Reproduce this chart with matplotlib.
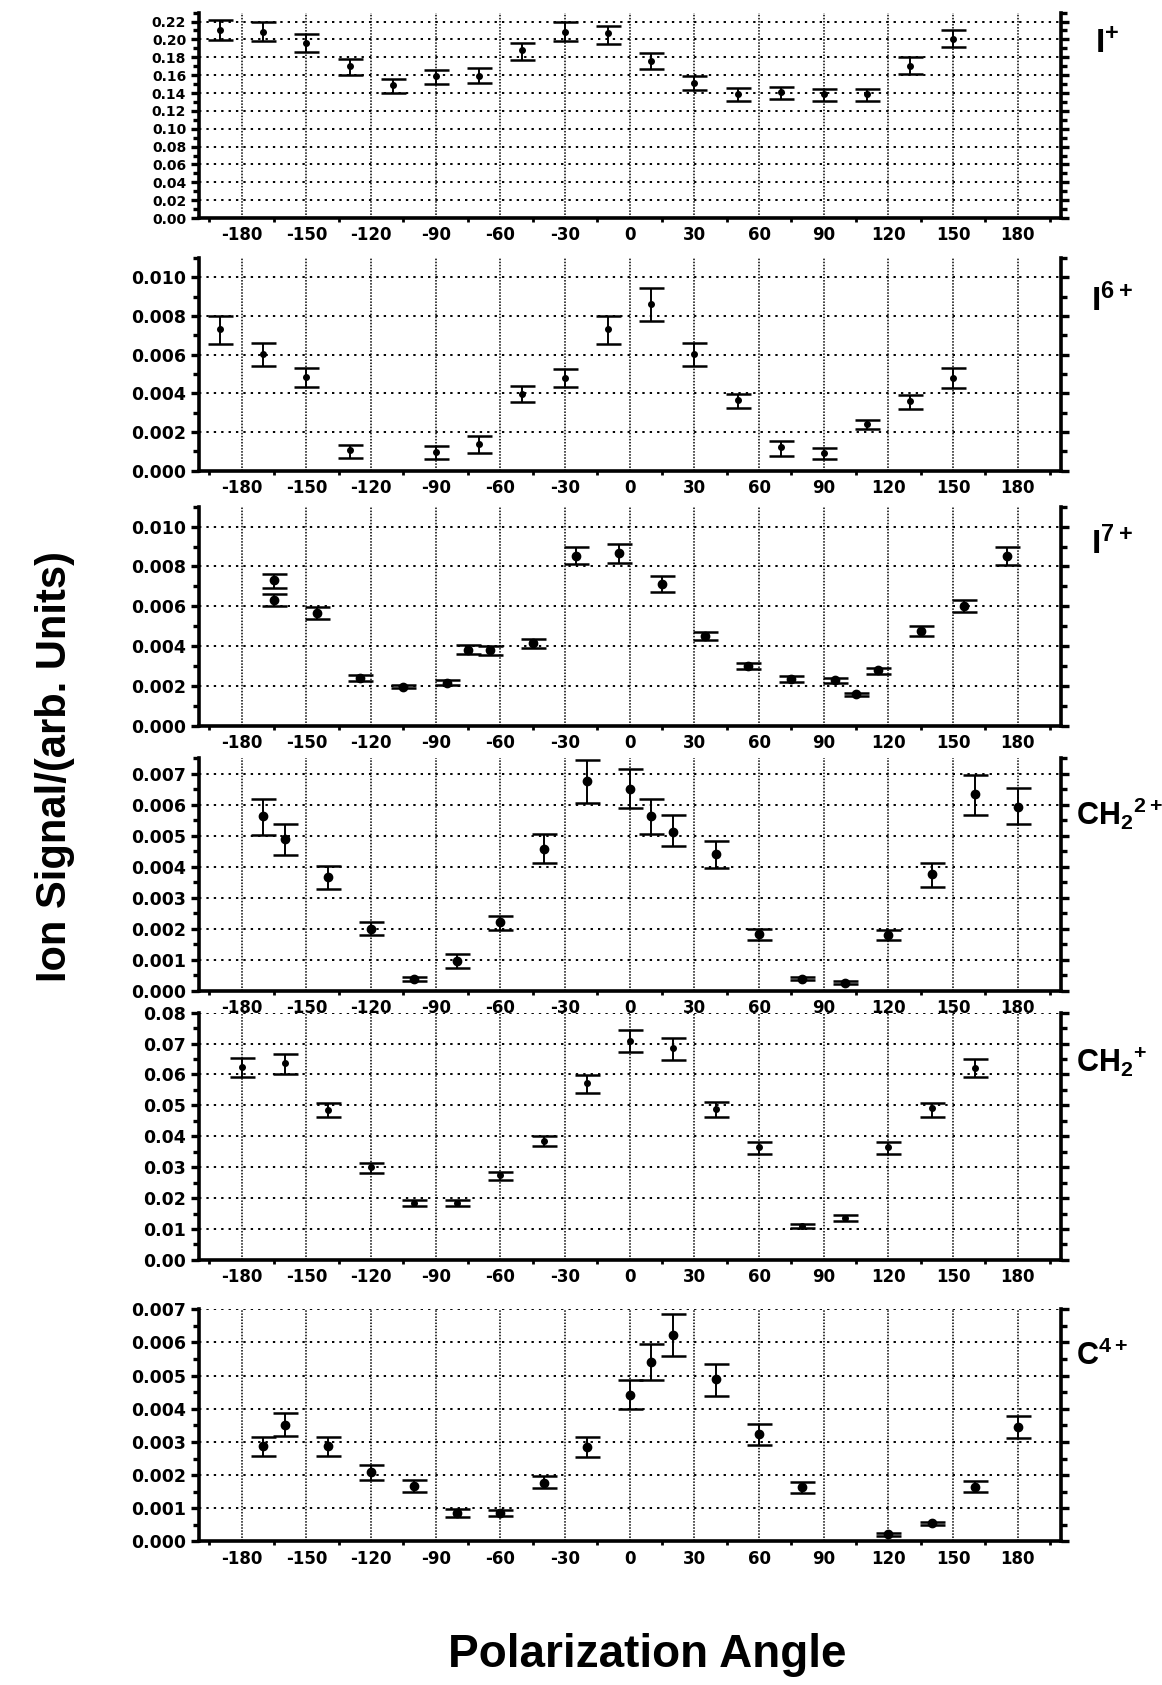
import matplotlib
matplotlib.use("Agg")
import matplotlib.pyplot as plt
from matplotlib.ticker import MultipleLocator, FormatStrFormatter

plt.rcParams['font.family'] = ['DejaVu Sans']
plt.rcParams['axes.unicode_minus'] = False
plt.rcParams['mathtext.fontset'] = 'custom'
plt.rcParams['mathtext.bf'] = 'Liberation Sans:bold'
plt.rcParams['mathtext.rm'] = 'Liberation Sans:bold'

# I+
iplus_ang = [-190, -170, -150, -130, -110, -90, -70, -50, -30, -10, 10, 30, 50, 70, 90, 110, 130, 150]
iplus_val = [0.2107, 0.2085, 0.196, 0.1707, 0.149, 0.1585, 0.159, 0.188, 0.2085, 0.2067, 0.1763, 0.151,
             0.1393, 0.1412, 0.1393, 0.1393, 0.1704, 0.2004]
iplus_hi = [0.2215, 0.219, 0.206, 0.178, 0.156, 0.166, 0.1678, 0.196, 0.219, 0.2152, 0.1844, 0.159,
            0.1455, 0.1468, 0.1449, 0.1449, 0.18, 0.211]
iplus_lo = [0.1996, 0.1985, 0.1863, 0.1607, 0.1404, 0.1496, 0.1515, 0.1774, 0.1978, 0.1948, 0.167, 0.143,
            0.1313, 0.1337, 0.1313, 0.1313, 0.161, 0.191]

# I6+
i6_ang = [-190, -170, -150, -130, -90, -70, -50, -30, -10, 10, 30, 50, 70, 90, 110, 130, 150]
i6_val = [0.00732, 0.00603, 0.00483, 0.00107, 0.00096, 0.00136, 0.00397, 0.00479, 0.00732, 0.00861,
          0.00605, 0.00367, 0.00122, 0.00092, 0.00241, 0.00359, 0.0048]
i6_hi = [0.0080, 0.0066, 0.0053, 0.00133, 0.00127, 0.00178, 0.0044, 0.00527, 0.0080, 0.00944,
         0.0066, 0.00398, 0.00155, 0.00118, 0.00264, 0.00393, 0.00529]
i6_lo = [0.00653, 0.00541, 0.00435, 0.00067, 0.00061, 0.00094, 0.00358, 0.00431, 0.00655, 0.00773,
         0.0054, 0.00324, 0.00078, 0.00061, 0.00214, 0.0032, 0.00428]

# I7+
i7_ang = [-165, -165, -145, -125, -105, -85, -75, -65, -45, -25, -5, 15, 35, 55, 75, 95, 105, 115, 135, 155, 175]
i7_val = [0.0073, 0.0063, 0.00567, 0.0024, 0.00195, 0.00215, 0.0038, 0.00378, 0.00414, 0.00854, 0.00867,
          0.00713, 0.00452, 0.00299, 0.00232, 0.00227, 0.00157, 0.00277, 0.00476, 0.00601, 0.00854]
i7_hi = [0.0076, 0.0066, 0.00595, 0.00253, 0.00204, 0.00229, 0.00405, 0.00398, 0.00436, 0.00899, 0.00912,
         0.00751, 0.00472, 0.00316, 0.00247, 0.00238, 0.00166, 0.0029, 0.00499, 0.0063, 0.009]
i7_lo = [0.0069, 0.0060, 0.00535, 0.00223, 0.00187, 0.00204, 0.0036, 0.00357, 0.0039, 0.00812, 0.0082,
         0.00672, 0.0043, 0.00282, 0.00219, 0.00215, 0.00148, 0.0026, 0.0045, 0.00569, 0.0081]

# CH2 2+
ch22_ang = [-170, -160, -140, -120, -100, -80, -60, -40, -20, 0, 10, 20, 40, 60, 80, 100, 120, 140, 160, 180]
ch22_val = [0.00564, 0.00491, 0.00366, 0.0020, 0.00038, 0.00097, 0.00222, 0.00459, 0.00677, 0.0065,
            0.00565, 0.00514, 0.00442, 0.00183, 0.00039, 0.00027, 0.00181, 0.00377, 0.00636, 0.00593]
ch22_hi = [0.0062, 0.00538, 0.00402, 0.00222, 0.00044, 0.00119, 0.00242, 0.00506, 0.00746, 0.00716,
           0.0062, 0.00568, 0.00485, 0.002, 0.00044, 0.00031, 0.00198, 0.00414, 0.00695, 0.00653]
ch22_lo = [0.00503, 0.0044, 0.00328, 0.0018, 0.00031, 0.00074, 0.00198, 0.00412, 0.00607, 0.00589,
           0.00505, 0.00467, 0.00398, 0.00165, 0.00034, 0.00023, 0.00163, 0.00336, 0.00569, 0.00537]

# CH2+
ch2_ang = [-180, -160, -140, -120, -100, -80, -60, -40, -20, 0, 20, 40, 60, 80, 100, 120, 140, 160]
ch2_val = [0.0623, 0.0636, 0.0485, 0.030, 0.0185, 0.0185, 0.0276, 0.0385, 0.0574, 0.0708, 0.0686,
           0.0487, 0.0365, 0.011, 0.0135, 0.0365, 0.0491, 0.0622]
ch2_hi = [0.0653, 0.0667, 0.0509, 0.0313, 0.0194, 0.0194, 0.0284, 0.0402, 0.0598, 0.0744, 0.0719,
          0.051, 0.0381, 0.0116, 0.0144, 0.0381, 0.0509, 0.065]
ch2_lo = [0.0593, 0.0601, 0.0461, 0.028, 0.0174, 0.0174, 0.0258, 0.0367, 0.0541, 0.0673, 0.0647,
          0.0461, 0.0343, 0.0102, 0.0126, 0.0343, 0.0461, 0.0593]

# C4+
c4_ang = [-170, -160, -140, -120, -100, -80, -60, -40, -20, 0, 10, 20, 40, 60, 80, 120, 140, 160, 180]
c4_val = [0.00287, 0.00351, 0.00287, 0.00208, 0.00167, 0.00086, 0.00086, 0.00177, 0.00286, 0.00442,
          0.0054, 0.00622, 0.00491, 0.00323, 0.00165, 0.00022, 0.00056, 0.00165, 0.00345]
c4_hi = [0.00316, 0.00387, 0.00316, 0.0023, 0.00185, 0.00097, 0.00094, 0.00197, 0.00316, 0.00487,
         0.00594, 0.00686, 0.00536, 0.00355, 0.00178, 0.00026, 0.0006, 0.00183, 0.00379]
c4_lo = [0.00258, 0.00317, 0.00258, 0.00186, 0.0015, 0.00073, 0.00077, 0.0016, 0.00256, 0.00398,
         0.00487, 0.0056, 0.00438, 0.00291, 0.00147, 0.00016, 0.0005, 0.0015, 0.00311]

x_ticks = [-180, -150, -120, -90, -60, -30, 0, 30, 60, 90, 120, 150, 180]

panels = [
    # data, label, label pos, label size, ymax, major, minor, fmt, tick size, marker size, [bottom, height]
    ((iplus_ang, iplus_val, iplus_lo, iplus_hi), r'$\mathbf{I^{+}}$', (1.04, 0.85), 24,
     0.23, 0.02, 0.01, '%.2f', 10, 4, [0.8706, 0.1219]),
    ((i6_ang, i6_val, i6_lo, i6_hi), r'$\mathbf{I^{6+}}$', (1.035, 0.80), 24,
     0.011, 0.002, 0.001, '%.3f', 12.5, 4, [0.7206, 0.1263]),
    ((i7_ang, i7_val, i7_lo, i7_hi), r'$\mathbf{I^{7+}}$', (1.035, 0.83), 24,
     0.011, 0.002, 0.001, '%.3f', 12.5, 6, [0.5694, 0.1298]),
    ((ch22_ang, ch22_val, ch22_lo, ch22_hi), r'$\mathbf{CH_2{}^{2+}}$', (1.018, 0.76), 22,
     0.0075, 0.001, 0.0005, '%.3f', 12.5, 6, [0.4119, 0.1380]),
    ((ch2_ang, ch2_val, ch2_lo, ch2_hi), r'$\mathbf{CH_2{}^{+}}$', (1.018, 0.80), 22,
     0.08, 0.01, 0.005, '%.2f', 12.5, 4, [0.2523, 0.1467]),
    ((c4_ang, c4_val, c4_lo, c4_hi), r'$\mathbf{C^{4+}}$', (1.018, 0.80), 22,
     0.007, 0.001, 0.0005, '%.3f', 12.5, 6, [0.0852, 0.1378]),
]

fig = plt.figure(figsize=(11.62, 16.85), dpi=100)

for (ang, val, lo, hi), label, lpos, lsize, ymax, major, minor, fmt, tsize, ms, (bot, h) in panels:
    ax = fig.add_axes([0.171, bot, 0.742, h])
    yerr = [[v - l for v, l in zip(val, lo)], [u - v for v, u in zip(val, hi)]]
    ax.errorbar(ang, val, yerr=yerr, fmt='o', color='black', ms=ms, elinewidth=1.4,
                capsize=9, capthick=1.8, zorder=3)
    ax.set_xlim(-200, 200)
    ax.set_ylim(0, ymax)
    ax.set_xticks(x_ticks)
    ax.set_xticks(list(range(-195, 200, 30)), minor=True)
    ax.yaxis.set_major_locator(MultipleLocator(major))
    ax.yaxis.set_minor_locator(MultipleLocator(minor))
    ax.yaxis.set_major_formatter(FormatStrFormatter(fmt))
    ax.grid(True, axis='y', which='major', color='black', linestyle=(0, (1.2, 2.6)), linewidth=1.4)
    ax.grid(True, axis='x', which='major', color='black', linestyle=(0, (1, 1)), linewidth=1.1)
    ax.spines['top'].set_visible(False)
    for s in ['left', 'right', 'bottom']:
        ax.spines[s].set_linewidth(2.6)
    ax.tick_params(axis='y', which='both', left=True, right=True, direction='out', width=2.4,
                   labelsize=tsize, pad=3)
    ax.tick_params(axis='y', which='major', length=6)
    ax.tick_params(axis='y', which='minor', length=4)
    ax.tick_params(axis='x', which='major', length=0, labelsize=12, pad=6)
    ax.tick_params(axis='x', which='minor', length=3, width=2, direction='out')
    for t in ax.get_xticklabels() + ax.get_yticklabels():
        t.set_fontweight('bold')
    ax.text(lpos[0], lpos[1], label, transform=ax.transAxes, fontsize=lsize, ha='left', va='center')

fig.text(0.047, 0.545, 'Ion Signal/(arb. Units)', rotation=90, ha='center', va='center',
         fontsize=30, fontweight='bold', family='Liberation Sans')
fig.text(0.557, 0.018, 'Polarization Angle', ha='center', va='center',
         fontsize=33, fontweight='bold', family='Liberation Sans')

fig.savefig('out.png', dpi=100)
